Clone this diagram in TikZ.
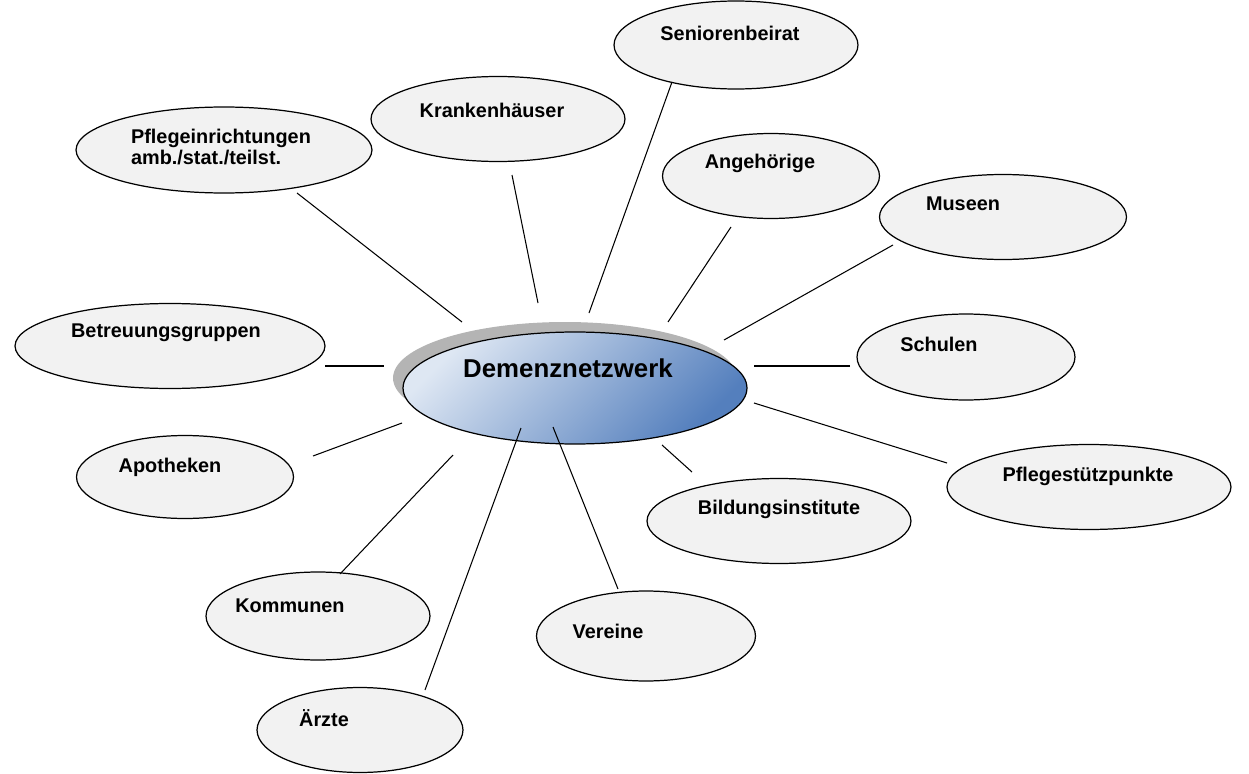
\documentclass[tikz,border=0pt]{standalone}
\usepackage{fontspec}
\setmainfont{Liberation Sans}
\usetikzlibrary{shapes.geometric}

\definecolor{bubblegrey}{RGB}{242,242,242}
\definecolor{shadowgrey}{RGB}{180,180,180}
\definecolor{netzlight}{RGB}{222,231,243}
\definecolor{netzdark}{RGB}{84,127,189}

\begin{document}
\begin{tikzpicture}[
    x=0.02cm, y=-0.02cm,
    bubble/.style={ellipse, draw, line width=0.7pt, fill=bubblegrey, inner sep=0pt},
    txt/.style={font=\fontsize{11.3}{11.4}\selectfont\bfseries, inner sep=0pt, align=left},
    link/.style={line width=0.6pt}
]
\useasboundingbox (0,0) rectangle (1249,774);

% Center
\node[ellipse, fill=shadowgrey, minimum width=6.88cm, minimum height=2.24cm, inner sep=0pt] (shadow) at (565,378) {};
\node[ellipse, draw, line width=0.7pt, top color=netzlight, bottom color=netzdark, shading angle=45,
      minimum width=6.88cm, minimum height=2.24cm, inner sep=0pt] (netz) at (575,388) {};
\node[font=\fontsize{14.7}{16}\selectfont\bfseries, inner sep=0pt] (netz-t) at (568,368) {Demenznetzwerk};

% Satellites
\node[bubble, minimum width=5.92cm, minimum height=1.72cm] (pflege) at (224,150) {};
\node[txt] (pflege-t) at (221,147) {Pflegeinrichtungen\\amb./stat./teilst.};

\node[bubble, minimum width=5.08cm, minimum height=1.7cm] (kranken) at (498,119) {};
\node[txt] (kranken-t) at (492,110) {Krankenhäuser};

\node[bubble, minimum width=4.88cm, minimum height=1.76cm] (senior) at (736,45) {};
\node[txt] (senior-t) at (730,33) {Seniorenbeirat};

\node[bubble, minimum width=4.34cm, minimum height=1.7cm] (angeh) at (771,176) {};
\node[txt] (angeh-t) at (760,163) {Angehörige};

\node[bubble, minimum width=4.94cm, minimum height=1.7cm] (museen) at (1003,217) {};
\node[txt] (museen-t) at (963,204) {Museen};

\node[bubble, minimum width=6.2cm, minimum height=1.7cm] (betreu) at (170,346) {};
\node[txt] (betreu-t) at (166,333) {Betreuungsgruppen};

\node[bubble, minimum width=4.36cm, minimum height=1.72cm] (schulen) at (966,357) {};
\node[txt] (schulen-t) at (939,344) {Schulen};

\node[bubble, minimum width=5.68cm, minimum height=1.7cm] (stuetz) at (1089,487) {};
\node[txt] (stuetz-t) at (1088,476) {Pflegestützpunkte};

\node[bubble, minimum width=5.28cm, minimum height=1.7cm] (bildung) at (779,521) {};
\node[txt] (bildung-t) at (779,509) {Bildungsinstitute};

\node[bubble, minimum width=4.34cm, minimum height=1.66cm] (apo) at (185,477) {};
\node[txt] (apo-t) at (170,467) {Apotheken};

\node[bubble, minimum width=4.48cm, minimum height=1.76cm] (kommunen) at (318,616) {};
\node[txt] (kommunen-t) at (290,606) {Kommunen};

\node[bubble, minimum width=4.38cm, minimum height=1.8cm] (vereine) at (646,636) {};
\node[txt] (vereine-t) at (608,631) {Vereine};

\node[bubble, minimum width=4.12cm, minimum height=1.7cm] (aerzte) at (360,730) {};
\node[txt] (aerzte-t) at (324,718) {Ärzte};

% Connector ends
\coordinate (pflege-out) at (297,193);   \coordinate (pflege-in) at (462,322);
\coordinate (kranken-out) at (512,175);  \coordinate (kranken-in) at (538,303);
\coordinate (senior-out) at (672,82);    \coordinate (senior-in) at (589,313);
\coordinate (angeh-out) at (731,227);    \coordinate (angeh-in) at (668,322);
\coordinate (museen-out) at (893,245);   \coordinate (museen-in) at (724,340);
\coordinate (betreu-out) at (325,366);   \coordinate (betreu-in) at (384,366);
\coordinate (schulen-out) at (850,366);  \coordinate (schulen-in) at (754,366);
\coordinate (stuetz-out) at (947,463);   \coordinate (stuetz-in) at (754,403);
\coordinate (bildung-out) at (692,472);  \coordinate (bildung-in) at (662,445);
\coordinate (apo-out) at (313,456);      \coordinate (apo-in) at (402,423);
\coordinate (kommunen-out) at (340,574); \coordinate (kommunen-in) at (453,455);
\coordinate (vereine-out) at (618,589);  \coordinate (vereine-in) at (553,427);
\coordinate (aerzte-out) at (425,690);   \coordinate (aerzte-in) at (521,428);

\foreach \n in {pflege,kranken,senior,angeh,museen,betreu,schulen,stuetz,bildung,apo,kommunen,vereine,aerzte}
    \draw[link] (\n-out) -- (\n-in);

\end{tikzpicture}
\end{document}
